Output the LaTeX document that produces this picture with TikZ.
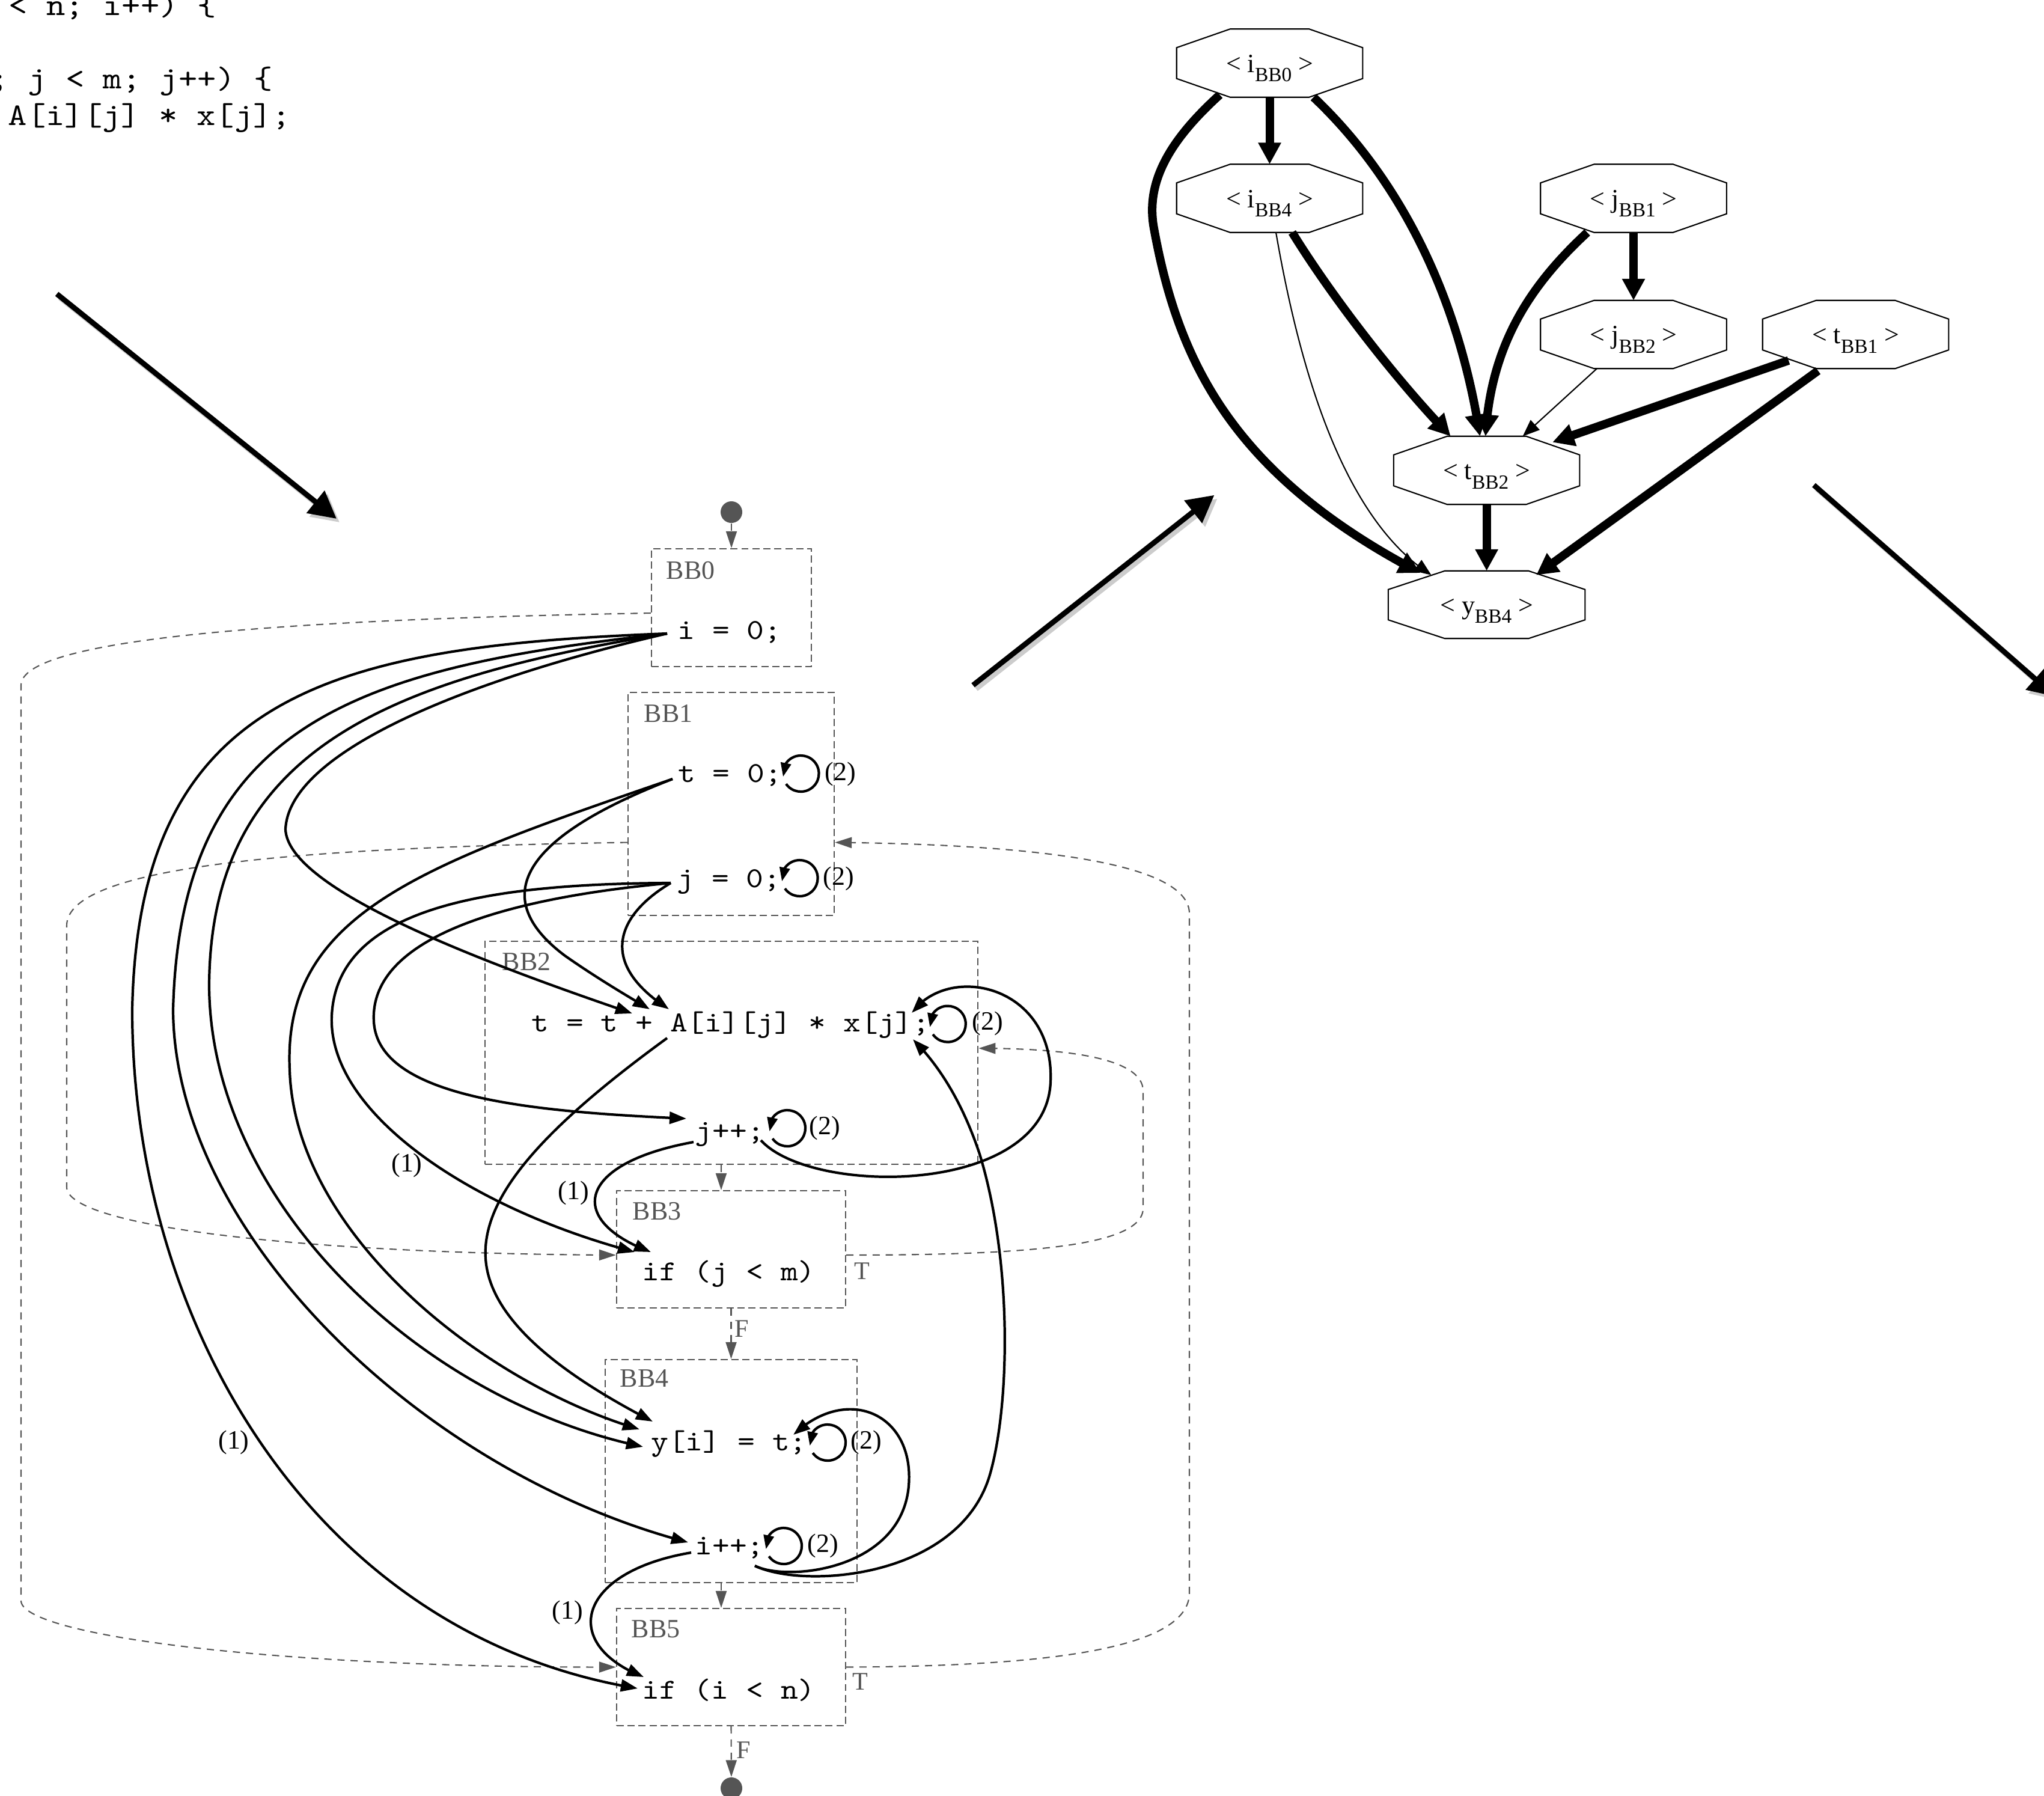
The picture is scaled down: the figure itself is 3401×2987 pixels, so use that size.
\documentclass[tikz,border=0pt]{standalone}
\usepackage{fontspec}
\setmainfont{Liberation Serif}
\newfontfamily\codefont{lmmono10-regular.otf}[FakeStretch=1.14]
\usetikzlibrary{arrows.meta,bending,calc}
\definecolor{cfggray}{RGB}{85,85,85}
\newcommand{\octsub}[1]{\raisebox{-4.5pt}{\fontsize{9.5}{10}\selectfont #1}}
\newcommand{\drawocta}[2]{%
  \draw[octline] ([xshift=#2]#1.north west) -- ([xshift=-#2]#1.north east)
    -- ([yshift=-0.31cm]#1.north east) -- ([yshift=0.31cm]#1.south east)
    -- ([xshift=-#2]#1.south east) -- ([xshift=#2]#1.south west)
    -- ([yshift=0.31cm]#1.south west) -- ([yshift=-0.31cm]#1.north west) -- cycle;}
\begin{document}
\begin{tikzpicture}[x=0.01cm,y=0.01cm,
  cfgbox/.style={draw=cfggray, line width=0.6pt, dash pattern=on 3.4pt off 1.8pt, rectangle, inner sep=0pt},
  cfgflow/.style={draw=cfggray, line width=0.6pt, dash pattern=on 3.4pt off 2.8pt, -{Triangle[length=2.8mm,width=1.8mm]}},
  dep/.style={draw=black, line width=1.2pt, -{Triangle[length=2.8mm,width=2mm]}},
  loopdep/.style={draw=black, line width=1.2pt, -{Triangle[length=2.3mm,width=1.7mm]}},
  code/.style={font=\fontsize{13.7}{16}\codefont, inner sep=0pt, anchor=base},
  bblab/.style={font=\fontsize{12.5}{15}\selectfont, text=cfggray, inner sep=0pt, anchor=base west},
  numlab/.style={font=\fontsize{12.5}{14}\selectfont, inner sep=0pt},
  tflab/.style={font=\fontsize{12}{14}\selectfont, text=cfggray, inner sep=0pt},
  dot/.style={circle, fill=cfggray, minimum size=0.36cm, inner sep=0pt},
  octnode/.style={rectangle, inner sep=0pt, minimum width=3.08cm, minimum height=1.12cm},
  octlab/.style={font=\fontsize{12.5}{15}\selectfont, inner sep=0pt, anchor=base},
  octline/.style={draw=black, line width=0.6pt, line join=miter},
  thickdep/.style={draw=black, line width=4pt, -{Triangle[length=3.6mm,width=3.6mm]}},
  thindep/.style={draw=black, line width=0.6pt, -{Triangle[length=2.8mm,width=2.2mm]}},
  bigarrow/.style={line width=2.5pt, -{Triangle[length=4.5mm,width=4.6mm]}},
  bigshadow/.style={line width=2.5pt, draw=black!20, -{Triangle[length=4.5mm,width=4.6mm]}},
  topcode/.style={font=\fontsize{14.9}{18}\codefont, inner sep=0pt, anchor=base west}
]
\useasboundingbox (0,0) rectangle (3401,-2987);

% ---------------- source code fragment ----------------
\node[topcode] (code1) at (14,-25) {< n; i++) \{};
\node[topcode] (code3) at (-17,-147) {; j < m; j++) \{};
\node[topcode] (code4) at (13,-208) {A[i][j] * x[j];};

% ---------------- big panel arrows ----------------
\coordinate (a1s) at (94.6,-489);  \coordinate (a1e) at (560,-863);
\coordinate (a2s) at (1619,-1140); \coordinate (a2e) at (2020.5,-823.7);
\coordinate (a3s) at (3018,-807);  \coordinate (a3e) at (3420,-1159);
\begin{scope}[transform canvas={shift={(0.05cm,-0.06cm)}}]
  \draw[bigshadow] (a1s) -- (a1e);
  \draw[bigshadow] (a2s) -- (a2e);
  \draw[bigshadow] (a3s) -- (a3e);
\end{scope}
\draw[bigarrow] (a1s) -- (a1e);
\draw[bigarrow] (a2s) -- (a2e);
\draw[bigarrow] (a3s) -- (a3e);

% ---------------- CFG boxes ----------------
\node[cfgbox, minimum width=2.66cm, minimum height=1.96cm] (BB0) at (1217,-1011) {};
\node[cfgbox, minimum width=3.43cm, minimum height=3.71cm] (BB1) at (1216.5,-1337.5) {};
\node[cfgbox, minimum width=8.2cm, minimum height=3.71cm] (BB2) at (1217,-1751.5) {};
\node[cfgbox, minimum width=3.81cm, minimum height=1.95cm] (BB3) at (1216.5,-2078.5) {};
\node[cfgbox, minimum width=4.19cm, minimum height=3.71cm] (BB4) at (1216.5,-2447.5) {};
\node[cfgbox, minimum width=3.81cm, minimum height=1.95cm] (BB5) at (1216.5,-2773.5) {};

\node[bblab] (lBB0) at (1108,-963) {BB0};
\node[bblab] (lBB1) at (1071,-1201) {BB1};
\node[bblab] (lBB2) at (835,-1614) {BB2};
\node[bblab] (lBB3) at (1052,-2029) {BB3};
\node[bblab] (lBB4) at (1031,-2307) {BB4};
\node[bblab] (lBB5) at (1050,-2724) {BB5};

\node[code] (i0) at (1214,-1063) {i = 0;};
\node[code] (t0) at (1214.5,-1301) {t = 0;};
\node[code] (j0) at (1213,-1476) {j = 0;};
\node[code] (tA) at (1216,-1716) {t = t + A[i][j] * x[j];};
\node[code] (jpp) at (1214.5,-1896) {j++;};
\node[code] (ifj) at (1212.5,-2130) {if (j < m)};
\node[code] (yi) at (1213,-2413) {y[i] = t;};
\node[code] (ipp) at (1214,-2586) {i++;};
\node[code] (ifi) at (1212.5,-2826) {if (i < n)};

\node[dot] (start) at (1217,-852) {};
\node[dot] (end) at (1217,-2975) {};

% ---------------- CFG control flow ----------------
\draw[cfgflow] (start) -- (BB0.north);
\draw[cfgflow] ([xshift=-0.17cm]BB2.south) -- ([xshift=-0.165cm]BB3.north);
\draw[cfgflow] (BB3.south) -- (BB4.north);
\draw[cfgflow] ([xshift=-0.165cm]BB4.south) -- ([xshift=-0.165cm]BB5.north);
\draw[cfgflow] (BB5.south) -- (end);
\node[tflab, anchor=west] (F1) at (1222,-2211) {F};
\node[tflab, anchor=west] (F2) at (1225,-2912) {F};
\node[tflab] (T1) at (1434,-2115) {T};
\node[tflab] (T2) at (1431,-2798) {T};

\draw[cfgflow] ([yshift=-0.09cm]BB0.west) .. controls (500,-1030) and (35,-1060) .. (35,-1140)
  -- (35,-2663) .. controls (35,-2720) and (450,-2775) .. (BB5.west);
\draw[cfgflow] ([yshift=-0.64cm]BB1.west) .. controls (500,-1410) and (111,-1440) .. (111,-1540)
  -- (111,-1975) .. controls (111,-2040) and (500,-2086) .. ([yshift=-0.095cm]BB3.west);
\draw[cfgflow] (BB5.east) .. controls (1760,-2772) and (1979,-2740) .. (1979,-2650)
  -- (1979,-1520) .. controls (1979,-1440) and (1750,-1405) .. ([yshift=-0.64cm]BB1.east);
\draw[cfgflow] ([yshift=-0.095cm]BB3.east) .. controls (1700,-2088) and (1902,-2075) .. (1902,-2010)
  -- (1902,-1815) .. controls (1902,-1755) and (1750,-1744) .. ([yshift=0.075cm]BB2.east);

% ---------------- dependence end points ----------------
\coordinate (si) at (1110,-1054);
\coordinate (st) at (1119,-1296);
\coordinate (sj) at (1116,-1469);
\coordinate (sA) at (1110,-1727);
\coordinate (sjpL) at (1154,-1900);
\coordinate (sjpR) at (1266,-1897);
\coordinate (sipL) at (1150,-2583);
\coordinate (sipR) at (1256,-2605);
\coordinate (tAi) at (1052,-1686);
\coordinate (tAt) at (1081,-1679);
\coordinate (tAj) at (1113,-1679);
\coordinate (tAjp) at (1517,-1685);
\coordinate (tAip) at (1519,-1729);
\coordinate (tjp) at (1142,-1861);
\coordinate (tfj1) at (1056,-2083);
\coordinate (tfj2) at (1083,-2083);
\coordinate (tyA) at (1086,-2365);
\coordinate (tyt) at (1064,-2378);
\coordinate (tyi) at (1070,-2407);
\coordinate (tyip) at (1320,-2387);
\coordinate (tip) at (1145,-2566);
\coordinate (tfi1) at (1061,-2809);
\coordinate (tfi2) at (1071,-2790);

% ---------------- dependences ----------------
\draw[dep] (si) .. controls (560,-1075) and (230,-1150) .. (220,-1680)
  .. controls (220,-2200) and (520,-2720) .. (tfi1);
\draw[dep] (si) .. controls (600,-1110) and (300,-1200) .. (288,-1680)
  .. controls (290,-2050) and (700,-2450) .. (tip);
\draw[dep] (si) .. controls (640,-1130) and (350,-1250) .. (348,-1640)
  .. controls (350,-2000) and (700,-2330) .. (tyi);
\draw[dep] (si) .. controls (780,-1130) and (480,-1250) .. (475,-1380)
  .. controls (480,-1480) and (800,-1600) .. (tAi);
\draw[dep] (st) .. controls (700,-1440) and (470,-1520) .. (482,-1780)
  .. controls (490,-2050) and (800,-2300) .. (tyt);
\draw[dep] (st) .. controls (850,-1400) and (820,-1500) .. (940,-1590)
  .. controls (990,-1625) and (1040,-1655) .. (tAt);
\draw[dep] (sj) .. controls (780,-1470) and (560,-1520) .. (552,-1690)
  .. controls (545,-1850) and (780,-2010) .. (tfj1);
\draw[dep] (sj) .. controls (780,-1500) and (615,-1580) .. (622,-1700)
  .. controls (630,-1830) and (900,-1850) .. (tjp);
\draw[dep] (sj) .. controls (1030,-1520) and (990,-1600) .. (tAj);
\draw[dep] (sA) .. controls (900,-1880) and (790,-2000) .. (810,-2110)
  .. controls (830,-2220) and (980,-2310) .. (tyA);
\draw[dep] (sjpL) .. controls (960,-1935) and (940,-2030) .. (tfj2);
\draw[dep] (sjpR) .. controls (1350,-1990) and (1740,-1990) .. (1748,-1800)
  .. controls (1755,-1640) and (1580,-1600) .. (tAjp);
\draw[dep] (sipL) .. controls (960,-2615) and (930,-2735) .. (tfi2);
\draw[dep] (sipR) .. controls (1310,-2632) and (1500,-2612) .. (1512,-2472)
  .. controls (1522,-2352) and (1410,-2302) .. (tyip);
\draw[dep] (sipR) .. controls (1340,-2645) and (1600,-2625) .. (1648,-2450)
  .. controls (1680,-2335) and (1685,-2100) .. (1630,-1920)
  .. controls (1600,-1830) and (1560,-1770) .. (tAip);

\node[numlab] (one1) at (677,-1939) {(1)};
\node[numlab] (one2) at (954,-1985) {(1)};
\node[numlab] (one3) at (389,-2400) {(1)};
\node[numlab] (one4) at (944,-2683) {(1)};

% ---------------- self loops ----------------
\coordinate (Lt0) at (1332.5,-1287);
\coordinate (Lj0) at (1330.6,-1461);
\coordinate (LA) at (1576.8,-1703.6);
\coordinate (Ljp) at (1310,-1877);
\coordinate (Lyi) at (1377,-2400);
\coordinate (Lip) at (1304,-2572);
\foreach \c in {Lt0,Lj0,LA,Ljp,Lyi,Lip}{
  \draw[loopdep] ([shift={(215:0.3cm)}]\c) arc[start angle=215, end angle=550, radius=0.3cm];
}
\node[numlab] (n2a) at (1398,-1288) {(2)};
\node[numlab] (n2b) at (1395,-1462) {(2)};
\node[numlab] (n2c) at (1643.5,-1703) {(2)};
\node[numlab] (n2d) at (1372,-1877) {(2)};
\node[numlab] (n2e) at (1441.5,-2400) {(2)};
\node[numlab] (n2f) at (1369,-2572) {(2)};

% ---------------- octagon graph ----------------
\node[octnode] (iBB0) at (2112.5,-105) {};
\node[octnode] (iBB4) at (2112.5,-330) {};
\node[octnode] (jBB1) at (2718,-330) {};
\node[octnode] (jBB2) at (2718,-556.5) {};
\node[octnode] (tBB1) at (3087.5,-556.5) {};
\node[octnode] (tBB2) at (2473.6,-782.5) {};
\node[octnode, minimum width=3.26cm, minimum height=1.11cm] (yBB4) at (2473.6,-1006) {};
\drawocta{iBB0}{0.89cm}
\drawocta{iBB4}{0.89cm}
\drawocta{jBB1}{0.89cm}
\drawocta{jBB2}{0.89cm}
\drawocta{tBB1}{0.89cm}
\drawocta{tBB2}{0.89cm}
\drawocta{yBB4}{0.94cm}
\node[octlab] at ([yshift=-0.15cm]iBB0.center) {< i\octsub{BB0} >};
\node[octlab] at ([yshift=-0.15cm]iBB4.center) {< i\octsub{BB4} >};
\node[octlab] at ([yshift=-0.15cm]jBB1.center) {< j\octsub{BB1} >};
\node[octlab] at ([yshift=-0.15cm]jBB2.center) {< j\octsub{BB2} >};
\node[octlab] at ([yshift=-0.15cm]tBB1.center) {< t\octsub{BB1} >};
\node[octlab] at ([yshift=-0.15cm]tBB2.center) {< t\octsub{BB2} >};
\node[octlab] at ([yshift=-0.15cm]yBB4.center) {< y\octsub{BB4} >};

\draw[thickdep] (iBB0.south) -- (iBB4.north);
\draw[thickdep] ([shift={(-0.83cm,0.04cm)}]iBB0.south) .. controls (1950,-230) and (1905,-300) .. (1920,-380)
  .. controls (1960,-600) and (2050,-790) .. ([shift={(-1.1cm,-0.035cm)}]yBB4.north);
\draw[thickdep] ([xshift=0.73cm]iBB0.south) .. controls (2300,-270) and (2420,-450) .. ([xshift=-0.11cm]tBB2.north);
\draw[thickdep] ([xshift=0.375cm]iBB4.south) .. controls (2220,-500) and (2330,-640) .. ([xshift=-0.6cm]tBB2.north);
\draw[thindep] ([xshift=0.105cm]iBB4.south) .. controls (2160,-600) and (2230,-860) .. ([shift={(-0.92cm,-0.07cm)}]yBB4.north);
\draw[thickdep] (jBB1.south) -- (jBB2.north);
\draw[thickdep] ([xshift=-0.77cm]jBB1.south) .. controls (2540,-480) and (2480,-580) .. ([xshift=-0.02cm]tBB2.north);
\draw[thindep] ([xshift=-0.61cm]jBB2.south) -- ([xshift=0.6cm]tBB2.north);
\draw[thickdep] ([shift={(-1.115cm,0.135cm)}]tBB1.south) -- ([shift={(1.094cm,-0.1cm)}]tBB2.north);
\draw[thickdep] ([shift={(-0.625cm,-0.035cm)}]tBB1.south) -- ([shift={(0.824cm,-0.07cm)}]yBB4.north);
\draw[thickdep] (tBB2.south) -- (yBB4.north);
\end{tikzpicture}
\end{document}
